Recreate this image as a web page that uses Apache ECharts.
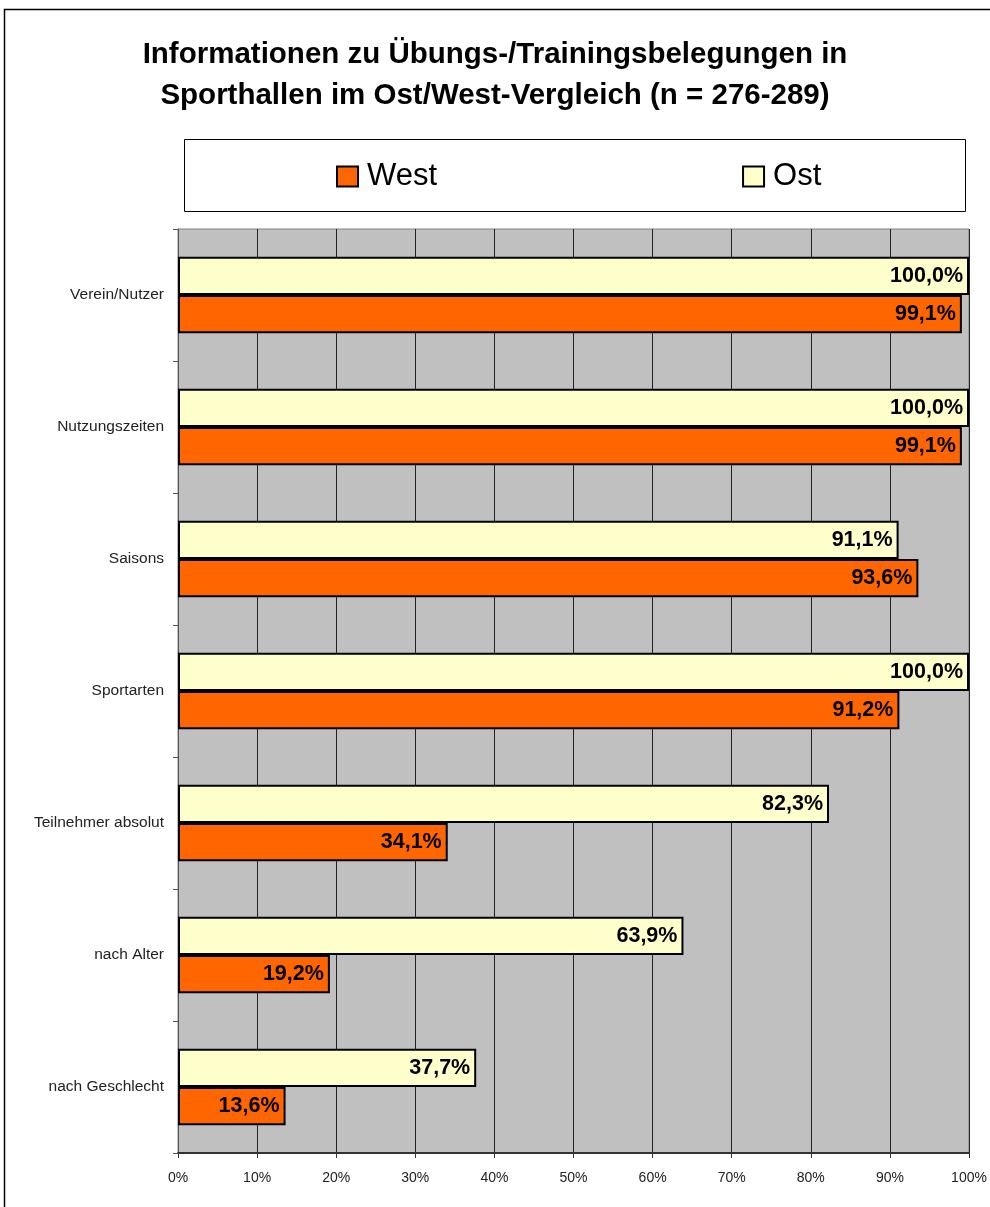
<!DOCTYPE html>
<html>
<head>
<meta charset="utf-8">
<script src="https://cdn.jsdelivr.net/npm/echarts@6/dist/echarts.min.js"></script>
<style>
  html, body { margin: 0; padding: 0; background: #fff; }
  #chart { width: 990px; height: 1207px; }
</style>
</head>
<body>
<div id="chart"></div>
<script>
// Categories (top to bottom) and the share of halls per region
const categories = ['Verein/Nutzer', 'Nutzungszeiten', 'Saisons', 'Sportarten',
                    'Teilnehmer absolut', 'nach Alter', 'nach Geschlecht'];
const ostValues  = [100.0, 100.0, 91.1, 100.0, 82.3, 63.9, 37.7];
const westValues = [99.1, 99.1, 93.6, 91.2, 34.1, 19.2, 13.6];
const xTicks = [0, 10, 20, 30, 40, 50, 60, 70, 80, 90, 100];

const FONT = '"Liberation Sans", Arial, sans-serif';
const fmtPct = v => v.toFixed(1).replace('.', ',') + '%';

const chart = echarts.init(document.getElementById('chart'), null, { renderer: 'canvas' });

const barLabel = {
  show: true,
  position: 'insideRight',
  distance: 6,
  formatter: p => fmtPct(p.value),
  color: '#000',
  fontFamily: FONT,
  fontWeight: 'bold',
  fontSize: 21.5
};

chart.setOption({
  animation: false,
  backgroundColor: '#fff',
  textStyle: { fontFamily: FONT },
  title: {
    text: 'Informationen zu Übungs-/Trainingsbelegungen in\nSporthallen im Ost/West-Vergleich (n = 276-289)',
    left: 'center',
    top: 29,
    textStyle: {
      fontFamily: FONT,
      fontWeight: 'bold',
      fontSize: 29.5,
      lineHeight: 41,
      color: '#000'
    }
  },
  graphic: [
    // outer chart frame
    { type: 'rect', silent: true, z: -1,
      shape: { x: 4.5, y: 9.5, width: 1200, height: 1400 },
      style: { fill: 'none', stroke: '#000', lineWidth: 1.5 } },
    // legend frame
    { type: 'rect', silent: true, z: -1,
      shape: { x: 184.5, y: 139.5, width: 781, height: 72 },
      style: { fill: '#fff', stroke: '#000', lineWidth: 1 } }
  ],
  legend: {
    data: ['West', 'Ost'],
    left: 331,
    top: 156,
    itemWidth: 21,
    itemHeight: 20,
    itemGap: 305,
    icon: 'rect',
    textStyle: { fontFamily: FONT, fontSize: 31, color: '#000', padding: [0, 0, 0, 4] }
  },
  grid: {
    left: 178,
    right: 21,
    top: 229,
    bottom: 54,
    show: true,
    backgroundColor: '#C0C0C0',
    borderColor: '#808080',
    borderWidth: 1
  },
  xAxis: {
    type: 'value',
    min: 0,
    max: 100,
    interval: 10,
    axisLine: { show: true, lineStyle: { color: '#333', width: 2 } },
    axisTick: { show: true, length: 5, lineStyle: { color: '#333' } },
    splitLine: { show: true, lineStyle: { color: '#222', width: 1 } },
    axisLabel: {
      formatter: v => (xTicks.includes(v) ? v + '%' : ''),
      fontFamily: FONT,
      fontSize: 14,
      color: '#222',
      margin: 18
    }
  },
  yAxis: {
    type: 'category',
    data: categories,
    inverse: true,
    axisLine: { show: true, lineStyle: { color: '#555', width: 1 } },
    axisTick: { show: true, length: 5, lineStyle: { color: '#555' } },
    splitLine: { show: false },
    axisLabel: {
      fontFamily: FONT,
      fontSize: 15.5,
      color: '#222',
      margin: 14
    }
  },
  series: [
    {
      name: 'Ost',
      type: 'bar',
      data: ostValues,
      barGap: '0%',
      barCategoryGap: '42%',
      itemStyle: { color: '#FFFFCC', borderColor: '#000', borderWidth: 2 },
      label: barLabel
    },
    {
      name: 'West',
      type: 'bar',
      data: westValues,
      barGap: '0%',
      barCategoryGap: '42%',
      itemStyle: { color: '#FF6600', borderColor: '#000', borderWidth: 2 },
      label: barLabel
    }
  ]
});
</script>
</body>
</html>
